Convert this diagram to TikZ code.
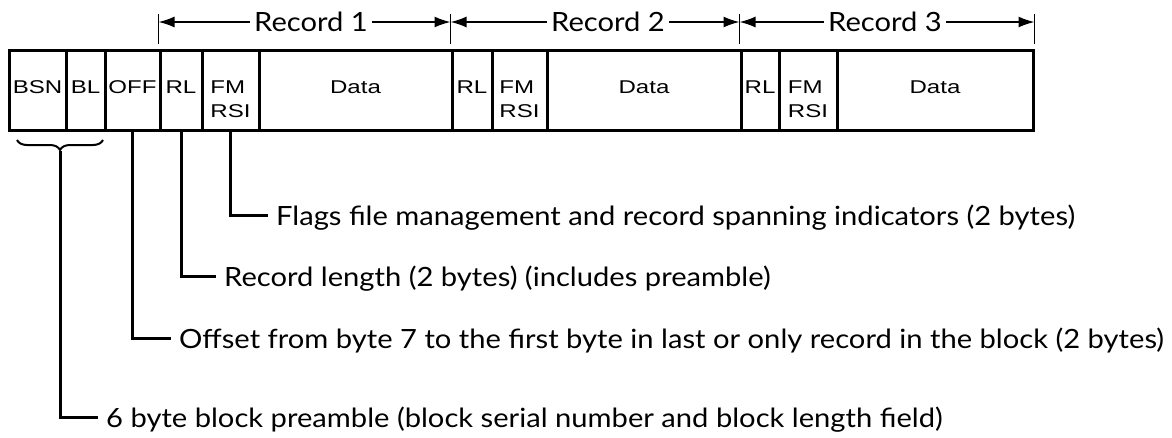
\documentclass[tikz,border=0pt]{standalone}
\usepackage{fontspec}
\setmainfont[FakeStretch=1.1]{Lato}
\newfontfamily\fieldfont[FakeStretch=1.3]{Liberation Sans}
\usetikzlibrary{arrows.meta,positioning,decorations.pathreplacing}

\begin{document}
\begin{tikzpicture}[x=1pt,y=-1pt,
  field/.style={rectangle,draw,line width=3pt,minimum height=80pt,inner sep=0pt,
    text height=13pt,text depth=6.5pt,font=\fieldfont\fontsize{18.5}{24}\selectfont},
  tick/.style={line width=1.2pt},
  span/.style={-{Latex[length=16pt,width=11pt]},line width=1.5pt},
  rec/.style={inner sep=4pt,font=\fontsize{26.5}{30}\selectfont},
  note/.style={anchor=west,inner sep=8pt,text height=20pt,text depth=0pt,
    font=\fontsize{26.5}{30}\selectfont},
  leader/.style={line width=3pt}
]
\useasboundingbox (0,0) rectangle (1172,437);

% Block preamble fields
\node[field,minimum width=57pt] (bsn) at (37.5,90) {BSN};
\node[field,minimum width=39pt] (bl) at (85.5,90) {BL};
\node[field,minimum width=55pt] (off) at (132.5,90) {OFF};

% Record 1
\node[field,minimum width=42pt] (rl1) at (181,90) {RL};
\node[field,minimum width=57pt] (fm1) at (230.5,90) {\begin{tabular}[t]{@{}l@{}}FM\\RSI\end{tabular}};
\node[field,minimum width=193pt] (d1) at (355.5,90) {Data};

% Record 2
\node[field,minimum width=40pt] (rl2) at (472,90) {RL};
\node[field,minimum width=55pt] (fm2) at (519.5,90) {\begin{tabular}[t]{@{}l@{}}FM\\RSI\end{tabular}};
\node[field,minimum width=194pt] (d2) at (644,90) {Data};

% Record 3
\node[field,minimum width=38pt] (rl3) at (760,90) {RL};
\node[field,minimum width=58pt] (fm3) at (808,90) {\begin{tabular}[t]{@{}l@{}}FM\\RSI\end{tabular}};
\node[field,minimum width=196pt] (d3) at (935,90) {Data};

% Record spans above the block
\coordinate (t0) at (rl1.north west |- 0,22);
\coordinate (t1) at (rl2.north west |- 0,22);
\coordinate (t2) at (rl3.north west |- 0,22);
\coordinate (t3) at (d3.north east |- 0,22);
\foreach \t in {t0,t1,t2,t3}
  \draw[tick] ([yshift=8pt]\t) -- ([yshift=-22pt]\t);

\node[rec] (r1) at (311,22) {Record 1};
\node[rec] (r2) at (608,22) {Record 2};
\node[rec] (r3) at (885,22) {Record 3};
\draw[span] (r1) -- (t0);
\draw[span] (r1) -- (t1);
\draw[span] (r2) -- (t1);
\draw[span] (r2) -- (t2);
\draw[span] (r3) -- (t2);
\draw[span] (r3) -- (t3);

% Brace under BSN and BL
\coordinate (bl0) at (17,140);
\coordinate (bl1) at (103,140);
\coordinate (tip) at (60,151);
\draw[decorate,decoration={brace,mirror,amplitude=10pt},line width=2pt] (bl0) -- (bl1);

% Explanations
\node[note] (flags) at (268,215) {Flags file management and record spanning indicators (2 bytes)};
\node[note] (rlen) at (216,276) {Record length (2 bytes) (includes preamble)};
\node[note] (offs) at (171,338) {Offset from byte 7 to the first byte in last or only record in the block (2 bytes)};
\node[note] (pre) at (98,417) {6 byte block preamble (block serial number and block length field)};

\draw[leader] (fm1.south) |- (flags.west);
\draw[leader] (rl1.south) |- (rlen.west);
\draw[leader] (off.south) |- (offs.west);
\draw[leader] (tip) |- (pre.west);

\end{tikzpicture}
\end{document}
